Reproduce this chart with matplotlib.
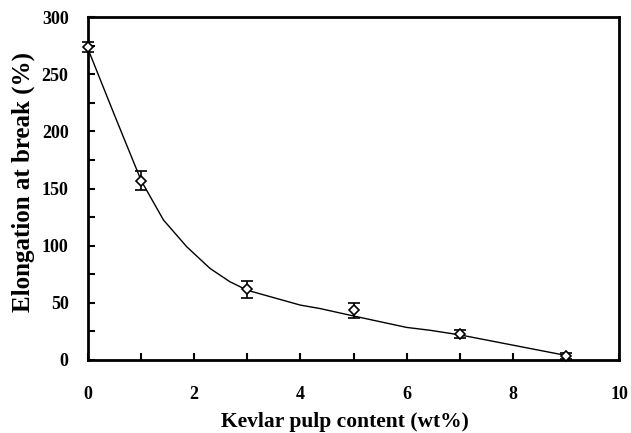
import matplotlib
matplotlib.use("Agg")
import matplotlib.pyplot as plt
from matplotlib.ticker import MultipleLocator

# measured points
kevlar = [0, 1, 3, 5, 7, 9]
elong = [273.5, 157, 62, 43.5, 22.5, 3.5]
err = [4.5, 8.5, 7.5, 6.5, 3.5, 2.5]

# fitted curve
curve_x = [0, 0.5, 1.0, 1.42, 1.86, 2.3, 2.67, 3.0, 3.43, 4.0, 4.37, 5.0, 6.0, 6.44, 7.0, 8.0, 9.0]
curve_y = [272, 214, 157, 122.5, 99, 80, 68.5, 61, 55.4, 48, 45, 38.5, 28.5, 26, 22, 13, 4]

xticks = [0, 2, 4, 6, 8, 10]
yticks = [0, 50, 100, 150, 200, 250, 300]

plt.rcParams['font.family'] = ['Liberation Serif', 'DejaVu Serif']
plt.rcParams['font.weight'] = 'bold'

fig = plt.figure(figsize=(6.31, 4.33), dpi=100)
ax = fig.add_axes([0.1395, 0.1686, 0.8415, 0.7921])

ax.plot(curve_x, curve_y, color='black', lw=1.0, zorder=2)
ax.errorbar(kevlar, elong, yerr=err, fmt='D', mfc='white', mec='black', mew=1.2,
            ms=5.5, ecolor='black', elinewidth=1.2, capsize=4, capthick=1.2,
            color='black', zorder=3, clip_on=False)

ax.set_xlim(0, 10)
ax.set_ylim(0, 300)
ax.set_xticks(xticks)
ax.set_yticks(yticks)
ax.xaxis.set_minor_locator(MultipleLocator(1))
ax.yaxis.set_minor_locator(MultipleLocator(25))
ax.tick_params(axis='both', which='both', direction='in', length=5, width=1.5,
               top=False, right=False, labelsize=13)
ax.tick_params(axis='x', which='major', pad=19)
ax.tick_params(axis='y', which='major', pad=14)
for lab in ax.get_xticklabels() + ax.get_yticklabels():
    lab.set_fontweight('bold')
for sp in ax.spines.values():
    sp.set_linewidth(2.0)

ax.set_xlabel('Kevlar pulp content (wt%)', fontsize=15.5, fontweight='bold')
ax.set_ylabel('Elongation at break (%)', fontsize=18, fontweight='bold')
ax.yaxis.set_label_coords(-0.100, 0.52)
ax.xaxis.set_label_coords(0.484, -0.153)

fig.savefig('out.png', dpi=100)
